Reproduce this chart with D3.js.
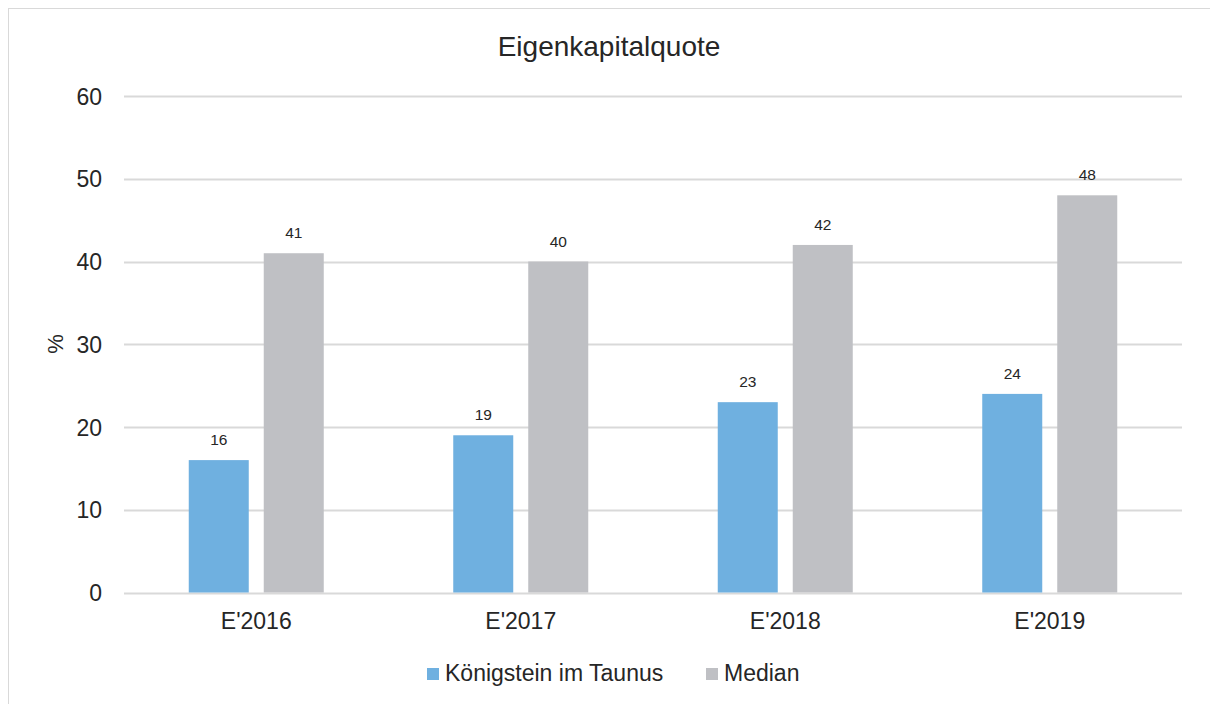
<!DOCTYPE html>
<html>
<head>
<meta charset="utf-8">
<script src="https://cdn.jsdelivr.net/npm/d3@7"></script>
<style>
  body { margin: 0; background: #fff; }
  text { font-family: "Liberation Sans", Arial, sans-serif; fill: #262626; }
</style>
</head>
<body>
<div id="chart"></div>
<script>
// Data
var categories = ["E'2016", "E'2017", "E'2018", "E'2019"];
var seriesNames = ["Königstein im Taunus", "Median"];
var koenigstein = [16, 19, 23, 24];
var median = [41, 40, 42, 48];
var yTicks = [0, 10, 20, 30, 40, 50, 60];
var colors = ["#6FB0E0", "#BFC0C4"];

var W = 1210, H = 704;
var svg = d3.select("#chart").append("svg")
   .attr("width", W)
   .attr("height", H);

// outer frame (runs off right/bottom edge)
svg.append("rect")
   .attr("x", 8.5).attr("y", 8.5)
   .attr("width", 1220).attr("height", 720)
   .attr("fill", "none")
   .attr("stroke", "#D9D9D9")
   .attr("stroke-width", 1);

// Scales
var x0 = d3.scaleBand().domain(categories).range([124, 1182]).paddingInner(0);
var x1 = d3.scaleBand().domain(seriesNames).range([0, 135]).paddingInner(0.2);
var y = d3.scaleLinear().domain([0, 60]).range([592.5, 96]);

// Gridlines
svg.append("g").selectAll("line")
   .data(yTicks)
   .enter().append("line")
   .attr("x1", 124).attr("x2", 1182)
   .attr("y1", function(d) { return Math.round(y(d)) + 0.5; })
   .attr("y2", function(d) { return Math.round(y(d)) + 0.5; })
   .attr("stroke", "#D9D9D9")
   .attr("stroke-width", 2);

// Y axis labels
var yAxis = d3.axisLeft(y).tickValues(yTicks).tickSize(0).tickPadding(0);
var yG = svg.append("g").attr("transform", "translate(102,0)").call(yAxis);
yG.select(".domain").remove();
yG.selectAll("text")
   .attr("font-size", "23px")
   .attr("font-family", "Liberation Sans, Arial, sans-serif")
   .attr("fill", "#262626")
   .attr("dy", "0.35em");

// X axis labels
var xAxis = d3.axisBottom(x0).tickSize(0).tickPadding(0);
var xG = svg.append("g").attr("transform", "translate(0,613)").call(xAxis);
xG.select(".domain").remove();
xG.selectAll("text")
   .attr("font-size", "23px")
   .attr("font-family", "Liberation Sans, Arial, sans-serif")
   .attr("fill", "#262626");

// Bars
var rows = categories.map(function(c, i) {
   return { cat: c, vals: [
      { name: seriesNames[0], value: koenigstein[i], color: colors[0] },
      { name: seriesNames[1], value: median[i], color: colors[1] }
   ]};
});

var groups = svg.append("g").selectAll("g")
   .data(rows)
   .enter().append("g")
   .attr("transform", function(d) {
      return "translate(" + (x0(d.cat) + x0.bandwidth() / 2 - 67.5) + ",0)";
   });

groups.selectAll("rect")
   .data(function(d) { return d.vals; })
   .enter().append("rect")
   .attr("x", function(d) { return x1(d.name); })
   .attr("width", x1.bandwidth())
   .attr("y", function(d) { return y(d.value); })
   .attr("height", function(d) { return y(0) - y(d.value); })
   .attr("fill", function(d) { return d.color; });

// Value labels
groups.selectAll("text.val")
   .data(function(d) { return d.vals; })
   .enter().append("text")
   .attr("class", "val")
   .attr("x", function(d) { return x1(d.name) + x1.bandwidth() / 2; })
   .attr("y", function(d) { return y(d.value) - 15; })
   .attr("text-anchor", "middle")
   .attr("font-size", "15.5px")
   .text(function(d) { return d.value; });

// Title
svg.append("text")
   .attr("x", 609).attr("y", 56)
   .attr("text-anchor", "middle")
   .attr("font-size", "28px")
   .text("Eigenkapitalquote");

// Y axis title
svg.append("text")
   .attr("transform", "translate(63,344) rotate(-90)")
   .attr("text-anchor", "middle")
   .attr("font-size", "22px")
   .text("%");

// Legend
var legendX = [427, 706];
var leg = svg.append("g").selectAll("g")
   .data(seriesNames)
   .enter().append("g")
   .attr("transform", function(d, i) { return "translate(" + legendX[i] + ",668)"; });
leg.append("rect")
   .attr("width", 12).attr("height", 12)
   .attr("fill", function(d, i) { return colors[i]; });
leg.append("text")
   .attr("x", 18).attr("y", 12.5)
   .attr("font-size", "23px")
   .text(function(d) { return d; });
</script>
</body>
</html>
